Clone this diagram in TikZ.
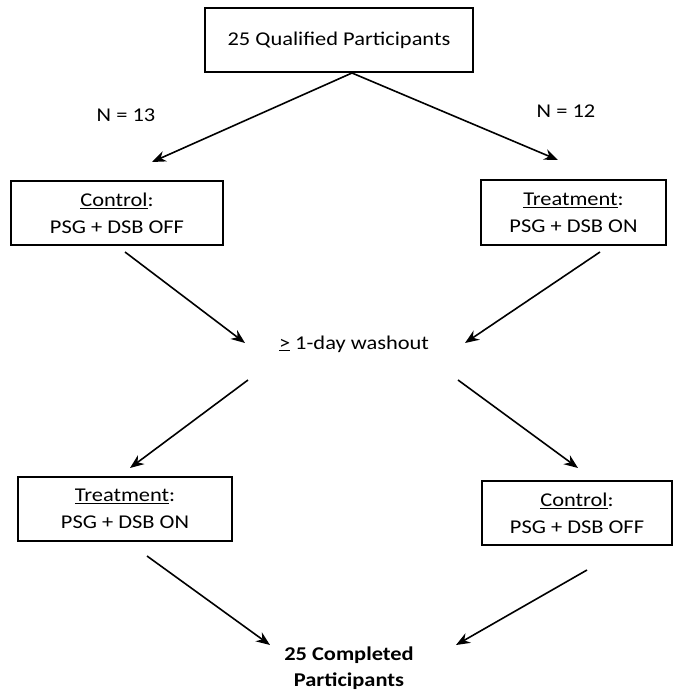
\documentclass[tikz,border=0pt]{standalone}
\usepackage{fontspec}
\setmainfont{Carlito}[FakeStretch=1.15]
\usetikzlibrary{positioning,arrows.meta}

\begin{document}
\begin{tikzpicture}[x=1pt, y=-1pt, font=\fontsize{19.5}{27}\selectfont,
  box/.style={draw, line width=1.3pt, align=center, inner sep=0pt},
  flow/.style={-{Stealth[length=14pt,width=11pt]}, line width=1.6pt}]
  \useasboundingbox (0,0) rectangle (681,691);

  % boxes
  \node[box, minimum width=268pt, minimum height=64pt] (qual) at (339,40) {25 Qualified Participants};
  \node[box, minimum width=212pt, minimum height=64pt] (ctrlA) at (117,213) {\underline{Control}:\\PSG + DSB OFF};
  \node[box, minimum width=185pt, minimum height=65pt] (treatA) at (573.5,212.5) {\underline{Treatment}:\\PSG + DSB ON};
  \node (wash) at (354,344) {\underline{>} 1-day washout};
  \node[box, minimum width=214pt, minimum height=64pt] (treatB) at (125,509) {\underline{Treatment}:\\PSG + DSB ON};
  \node[box, minimum width=190pt, minimum height=64pt] (ctrlB) at (577,513) {\underline{Control}:\\PSG + DSB OFF};
  \node[align=center, font=\fontsize{19.5}{26}\selectfont\bfseries] (done) at (349,668) {25 Completed\\Participants};

  % group sizes
  \node (nA) at (126,115) {N = 13};
  \node (nB) at (566,111) {N = 12};

  % arrow ends
  \coordinate (s0) at (352,73);
  \coordinate (e1) at (152,162);
  \coordinate (e2) at (558,160);
  \coordinate (s3) at (125,252);
  \coordinate (e3) at (245,343);
  \coordinate (s4) at (600,252);
  \coordinate (e4) at (465,343);
  \coordinate (s5) at (248,380);
  \coordinate (e5) at (130,468);
  \coordinate (s6) at (458,380);
  \coordinate (e6) at (578,468);
  \coordinate (s7) at (147,556);
  \coordinate (e7) at (270,645);
  \coordinate (s8) at (587,570);
  \coordinate (e8) at (456,645);

  \draw[flow] (s0) -- (e1);
  \draw[flow] (s0) -- (e2);
  \draw[flow] (s3) -- (e3);
  \draw[flow] (s4) -- (e4);
  \draw[flow] (s5) -- (e5);
  \draw[flow] (s6) -- (e6);
  \draw[flow] (s7) -- (e7);
  \draw[flow] (s8) -- (e8);
\end{tikzpicture}
\end{document}
